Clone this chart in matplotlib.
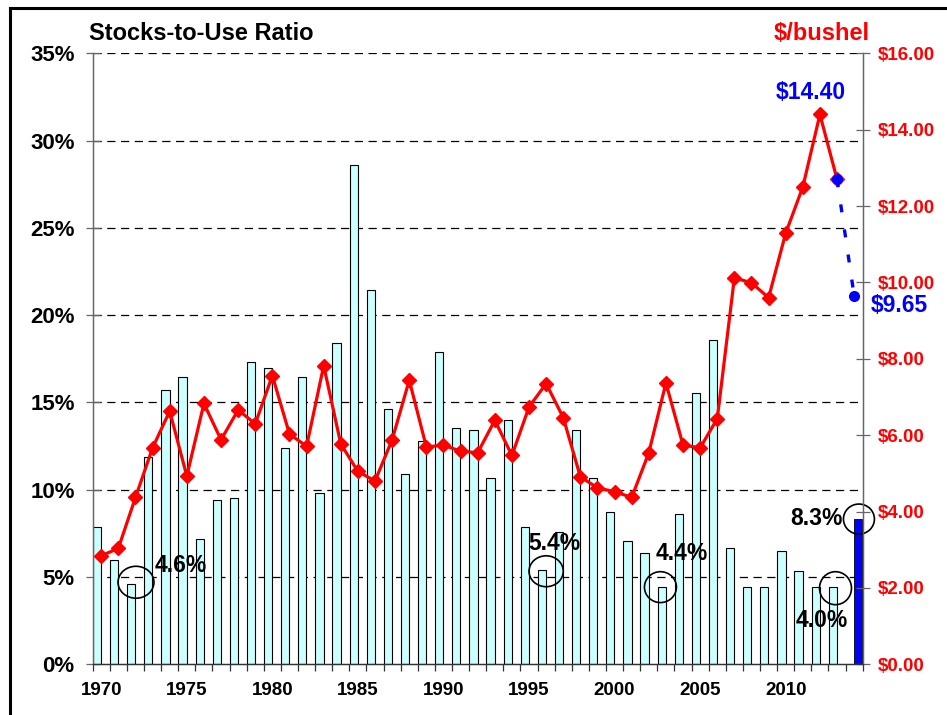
import matplotlib
matplotlib.use("Agg")
import matplotlib.pyplot as plt
from matplotlib.patches import Ellipse
from matplotlib.lines import Line2D
from matplotlib.ticker import FixedLocator
import numpy as np

plt.rcParams['font.family'] = ['Liberation Sans', 'DejaVu Sans']
plt.rcParams['font.weight'] = 'bold'

# ---- data ----
years = list(range(1970, 2014))
stocks_to_use = [7.85, 6.0, 4.6, 11.9, 15.7, 16.45, 7.2, 9.4, 9.5, 17.3,
                 17.0, 12.4, 16.45, 9.8, 18.4, 28.6, 21.45, 14.6, 10.9, 12.8,
                 17.9, 13.55, 13.4, 10.7, 14.0, 7.85, 5.4, 7.6, 13.4, 10.7,
                 8.75, 7.05, 6.35, 4.4, 8.6, 15.55, 18.55, 6.65, 4.45, 4.45,
                 6.5, 5.35, 4.45, 4.45]
proj_year = [2014]
proj_stocks = [8.3]
price = [2.84, 3.04, 4.37, 5.67, 6.63, 4.93, 6.83, 5.88, 6.66, 6.30,
         7.56, 6.03, 5.71, 7.82, 5.77, 5.05, 4.80, 5.88, 7.44, 5.69,
         5.74, 5.58, 5.54, 6.39, 5.47, 6.74, 7.35, 6.46, 4.91, 4.62,
         4.52, 4.37, 5.54, 7.37, 5.74, 5.67, 6.43, 10.12, 9.99, 9.60,
         11.29, 12.50, 14.40, 12.70]
proj_price_years = [2013, 2014]
proj_price = [12.70, 9.65]
pct_ticks = [0, 5, 10, 15, 20, 25, 30, 35]
price_ticks = [0, 2, 4, 6, 8, 10, 12, 14, 16]
year_labels = [1970, 1975, 1980, 1985, 1990, 1995, 2000, 2005, 2010]
callout_labels = ["4.6%", "5.4%", "4.4%", "4.0%", "8.3%"]

W, H = 947, 715
fig = plt.figure(figsize=(W / 100, H / 100), dpi=100)
x0, x1 = 92.7, 862.7
yb, yt = 664.3, 53.3
ax1 = fig.add_axes([x0 / W, 1 - yb / H, (x1 - x0) / W, (yb - yt) / H])
ax2 = ax1.twinx()

# bars
ax1.bar(np.array(years) - 0.49, stocks_to_use, width=0.48, align='edge',
        color='#CCFFFF', edgecolor='black', linewidth=0.8, zorder=2)
ax1.bar(np.array(proj_year) - 0.02, proj_stocks, width=0.46, align='edge',
        color='#0000FF', edgecolor='black', linewidth=0.6, zorder=2)

ax1.set_xlim(1969.5, 2014.5)
ax1.set_ylim(0, 35)
ax1.set_yticks(pct_ticks)
ax1.set_yticklabels([f"{v}%" for v in pct_ticks])
for v in pct_ticks[1:]:
    ax1.axhline(v, color='black', lw=0.9, ls=(0, (6.6, 4.4)), zorder=1)

# x ticks
ax1.set_xticks(year_labels)
ax1.set_xticklabels([str(y) for y in year_labels])
ax1.xaxis.set_minor_locator(FixedLocator(np.arange(1969.5, 2015, 1.0)))
ax1.tick_params(axis='x', which='major', length=0, pad=12.5, labelsize=13.5)
ax1.tick_params(axis='x', which='minor', direction='out', length=5,
                width=0.9, color='#333333')
ax1.tick_params(axis='y', which='major', direction='inout', length=10,
                width=0.9, color='#666666', pad=8.0, labelsize=16)

# price line
ax2.plot(years, price, color='#FF0000', lw=2.3, marker='D', markersize=7,
         zorder=5)
ax2.plot(proj_price_years, proj_price, color='#0000FF', lw=2.4,
         ls=(0, (2.4, 5.2)), marker='o', markersize=7, zorder=6)
ax2.set_ylim(0, 16)
ax2.set_yticks(price_ticks)
ax2.set_yticklabels([f"${v:.2f}" for v in price_ticks])
ax2.tick_params(axis='y', direction='inout', length=10, width=0.9,
                color='#666666', pad=6, labelsize=13.5, labelcolor='#FF0000')

for ax in (ax1, ax2):
    ax.spines['top'].set_visible(False)
    ax.spines['left'].set_color('#666666')
    ax.spines['right'].set_color('#666666')
    ax.spines['bottom'].set_color('#333333')
    for s in ax.spines.values():
        s.set_linewidth(0.9)
ax1.set_zorder(ax2.get_zorder() - 1)
ax1.patch.set_visible(False)

# callout ellipses (centre x, centre y in %, width in years, height in %)
ell = [(1972.03, 4.7, 2.1, 1.83), (1996.0, 5.33, 2.0, 1.77),
       (2002.68, 4.42, 1.87, 1.77), (2012.91, 4.36, 1.87, 1.89),
       (2014.28, 8.32, 1.81, 1.72)]
lbl_pos = [(1974.66, 5.68), (1996.46, 6.94), (2003.9, 6.36),
           (2012.08, 2.53), (2011.79, 8.37)]
for (cx, cy, ew, eh), (lx, ly), txt in zip(ell, lbl_pos, callout_labels):
    e = Ellipse((cx, cy), ew, eh, fill=False, edgecolor='black', lw=1.2,
                zorder=7, clip_on=False)
    ax1.add_patch(e)
    ax2.text(lx, ly * 16 / 35, txt, ha='center', va='center', fontsize=16.5,
             color='black', zorder=8, clip_on=False)

ax2.text(2011.45, 14.97, "$14.40", ha='center', va='center', fontsize=16.5,
         color='#0000FF', clip_on=False)
ax2.text(2016.65, 9.40, "$9.65", ha='center', va='center', fontsize=16.5,
         color='#0000FF', clip_on=False)

fig.text(89 / W, 1 - 34 / H, "Stocks-to-Use Ratio", ha='left', va='center',
         fontsize=17, color='black')
fig.text(822 / W, 1 - 34 / H, "$/bushel", ha='center', va='center',
         fontsize=17, color='#FF0000')

# frame
fig.add_artist(Line2D([10 / W, 10 / W], [0, 1 - 7.7 / H], transform=fig.transFigure,
                      color='black', lw=2.2))
fig.add_artist(Line2D([10 / W, 1], [1 - 7.7 / H, 1 - 7.7 / H],
                      transform=fig.transFigure, color='black', lw=2.2))

fig.savefig("out.png", dpi=100)
